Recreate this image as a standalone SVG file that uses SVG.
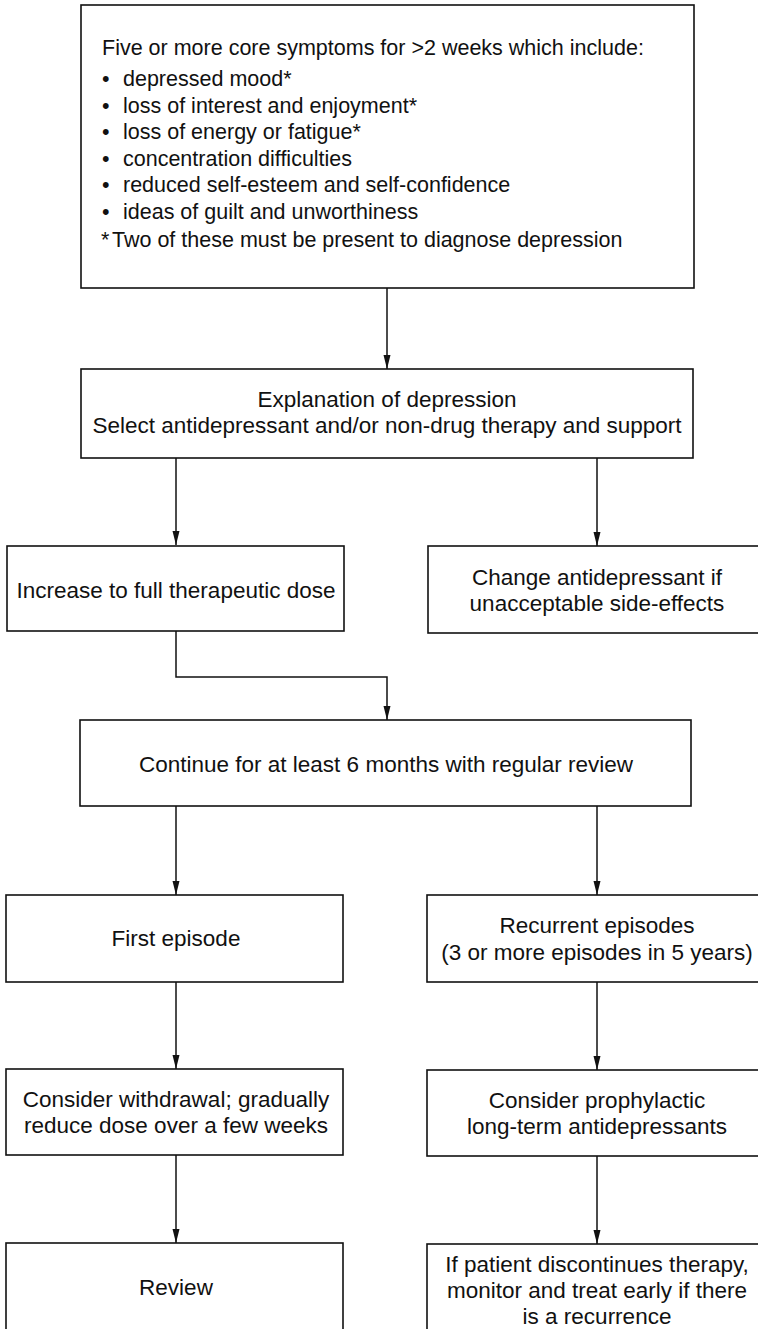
<svg xmlns="http://www.w3.org/2000/svg" width="758" height="1329" viewBox="0 0 758 1329">
<defs>
<style>
.box{fill:#fff;stroke:#111;stroke-width:1.6}
.t{font-family:"Liberation Sans",Arial,Helvetica,sans-serif;font-size:22.5px;fill:#111;text-anchor:middle}
.tl{font-family:"Liberation Sans",Arial,Helvetica,sans-serif;font-size:21.5px;fill:#111}
.c{fill:none;stroke:#111;stroke-width:1.5}
</style>
<marker id="ah" markerUnits="userSpaceOnUse" markerWidth="14" markerHeight="8" refX="14" refY="3.5" orient="auto">
<path d="M0,0 L14,3.5 L0,7 z" fill="#111"/>
</marker>
</defs>
<rect width="758" height="1329" fill="#fff"/>
<g id="connectors">
<path class="c" d="M387,288 V369" marker-end="url(#ah)"/>
<path class="c" d="M176,458 V545" marker-end="url(#ah)"/>
<path class="c" d="M597,458 V546" marker-end="url(#ah)"/>
<path class="c" d="M176,631 V677 H387 V720" marker-end="url(#ah)"/>
<path class="c" d="M176,806 V895" marker-end="url(#ah)"/>
<path class="c" d="M597,806 V895" marker-end="url(#ah)"/>
<path class="c" d="M176,982 V1069" marker-end="url(#ah)"/>
<path class="c" d="M597,982 V1070" marker-end="url(#ah)"/>
<path class="c" d="M176,1155 V1243" marker-end="url(#ah)"/>
<path class="c" d="M597,1156 V1244" marker-end="url(#ah)"/>
</g>
<g id="symptoms">
<rect class="box" x="81" y="5" width="613" height="283"/>
<text class="tl" x="102" y="55">Five or more core symptoms for &gt;2 weeks which include:</text>
<text class="tl" x="102" y="86">•</text><text class="tl" x="123" y="86">depressed mood*</text>
<text class="tl" x="102" y="112.5">•</text><text class="tl" x="123" y="112.5">loss of interest and enjoyment*</text>
<text class="tl" x="102" y="139">•</text><text class="tl" x="123" y="139">loss of energy or fatigue*</text>
<text class="tl" x="102" y="165.5">•</text><text class="tl" x="123" y="165.5">concentration difficulties</text>
<text class="tl" x="102" y="192">•</text><text class="tl" x="123" y="192">reduced self-esteem and self-confidence</text>
<text class="tl" x="102" y="218.5">•</text><text class="tl" x="123" y="218.5">ideas of guilt and unworthiness</text>
<text class="tl" y="247"><tspan x="101">*</tspan><tspan x="112">Two of these must be present to diagnose depression</tspan></text>
</g>
<g id="explanation">
<rect class="box" x="81" y="369" width="612" height="89"/>
<text class="t" x="387" y="407">Explanation of depression</text>
<text class="t" x="387" y="433">Select antidepressant and/or non-drug therapy and support</text>
</g>
<g id="increase">
<rect class="box" x="7" y="546" width="337" height="85"/>
<text class="t" x="176" y="598">Increase to full therapeutic dose</text>
</g>
<g id="change">
<rect class="box" x="428" y="546" width="332" height="87"/>
<text class="t" x="597" y="585">Change antidepressant if</text>
<text class="t" x="597" y="611">unacceptable side-effects</text>
</g>
<g id="continue">
<rect class="box" x="80" y="720" width="611" height="86"/>
<text class="t" x="386" y="772">Continue for at least 6 months with regular review</text>
</g>
<g id="first">
<rect class="box" x="6" y="895" width="337" height="87"/>
<text class="t" x="176" y="946">First episode</text>
</g>
<g id="recurrent">
<rect class="box" x="427" y="895" width="333" height="87"/>
<text class="t" x="597" y="933">Recurrent episodes</text>
<text class="t" x="597" y="960">(3 or more episodes in 5 years)</text>
</g>
<g id="withdrawal">
<rect class="box" x="6" y="1069" width="337" height="86"/>
<text class="t" x="176" y="1107">Consider withdrawal; gradually</text>
<text class="t" x="176" y="1133">reduce dose over a few weeks</text>
</g>
<g id="prophylactic">
<rect class="box" x="427" y="1070" width="333" height="86"/>
<text class="t" x="597" y="1108">Consider prophylactic</text>
<text class="t" x="597" y="1134">long-term antidepressants</text>
</g>
<g id="review">
<rect class="box" x="6" y="1243" width="337" height="110"/>
<text class="t" x="176" y="1295">Review</text>
</g>
<g id="discontinue">
<rect class="box" x="427" y="1244" width="333" height="110"/>
<text class="t" x="597" y="1272">If patient discontinues therapy,</text>
<text class="t" x="597" y="1298">monitor and treat early if there</text>
<text class="t" x="597" y="1324">is a recurrence</text>
</g>
</svg>
